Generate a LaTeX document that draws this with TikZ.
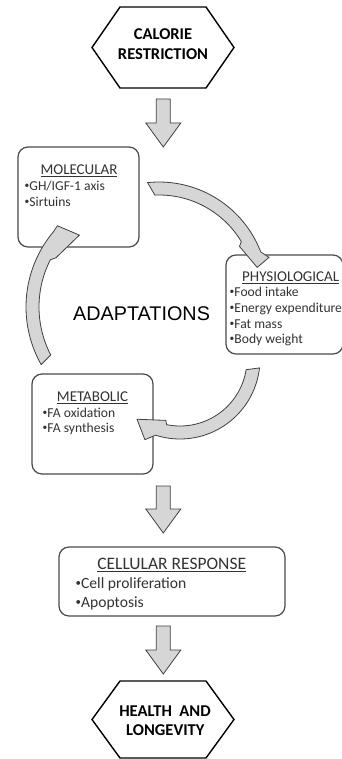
\documentclass[tikz,border=0pt]{standalone}
\usepackage{fontspec}
\setmainfont{Carlito}
\newfontfamily\arialf{Liberation Sans}
\definecolor{boxgray}{HTML}{4A4A4A}
\definecolor{textgray}{HTML}{333333}
\definecolor{arrowfill}{HTML}{D6D6D6}
\definecolor{arrowline}{HTML}{404040}
\newcommand\bul{\raisebox{0.3ex}{\scalebox{0.7}{\textbullet}}}
\newcommand\dnarrow[3]{\draw[blk] (#1-7,#2) -- (#1+7,#2) -- (#1+7,#3-24) -- (#1+17.5,#3-24) -- (#1,#3) -- (#1-17.5,#3-24) -- (#1-7,#3-24) -- cycle;}
\tikzset{
  box/.style={draw=boxgray, line width=1.2pt, rounded corners=10pt, inner sep=0pt},
  hex/.style={draw=black, line width=1.4pt, fill=white},
  blk/.style={draw=arrowline, fill=arrowfill, line width=0.8pt, line join=miter},
  txt/.style={inner sep=0pt, text=textgray, font=\fontsize{13.6}{16}\selectfont, anchor=base west},
  hdr/.style={txt, font=\fontsize{15}{18}\selectfont, anchor=base},
  hdrw/.style={txt, font=\fontsize{15}{18}\selectfont},
  bigtxt/.style={txt, font=\fontsize{15.6}{19}\selectfont},
  bighdr/.style={txt, font=\fontsize{17.5}{21}\selectfont, anchor=base},
  hextxt/.style={inner sep=0pt, text=black, font=\bfseries\fontsize{16.5}{20}\selectfont, anchor=base},
}
\begin{document}
\begin{tikzpicture}[x=1pt,y=-1pt]
\useasboundingbox (0,0) rectangle (342,759);
\clip (0,0) rectangle (342,759);
\fill[white] (0,0) rectangle (342,759);

% top hexagon
\draw[hex] (92,47.5) -- (120,7) -- (206,7) -- (234,47.5) -- (206,88) -- (120,88) -- cycle;
\node[hextxt] (cr1) at (163,39.3) {CALORIE};
\node[hextxt] (cr2) at (163,59.3) {RESTRICTION};

% block arrow 1
\dnarrow{163.3}{99}{147}

% molecular
\node[box, minimum width=121pt, minimum height=100pt] (mol) at (78.5,197) {};
\node[hdr] (molh) at (79,175) {\underline{MOLECULAR}};
\node[txt] (mol1) at (24.5,190.7) {\bul GH/IGF-1 axis};
\node[txt] (mol2) at (24.5,206.2) {\bul Sirtuins};

% physiological
\node[box, minimum width=117pt, minimum height=99pt] (phy) at (284.5,304.5) {};
\node[hdrw] (phyh) at (242,281.7) {\underline{PHYSIOLOGICAL}};
\node[txt] (phy1) at (229.5,296.7) {\bul Food intake};
\node[txt] (phy2) at (229.5,312.3) {\bul Energy expenditure};
\node[txt] (phy3) at (229.5,328) {\bul Fat mass};
\node[txt] (phy4) at (229.5,343.3) {\bul Body weight};

% metabolic
\node[box, minimum width=121pt, minimum height=100pt] (met) at (92.5,424) {};
\node[hdr] (meth) at (92.5,401.7) {\underline{METABOLIC}};
\node[txt] (met1) at (42.5,417.3) {\bul FA oxidation};
\node[txt] (met2) at (42.5,432.7) {\bul FA synthesis};

% adaptations
\node[inner sep=0pt, anchor=base west, font=\arialf\fontsize{19.8}{23}\selectfont, text=black] (adapt) at (73,320) {ADAPTATIONS};

% curved arrows
\draw[blk] plot[domain=-96:-21, samples=40] ({159+109*cos(\x)},{291+109*sin(\x)})
  -- ({159+115*cos(-17)},{291+115*sin(-17)})
  -- ({159+101*cos(-13.5)},{291+101*sin(-13.5)})
  -- ({159+92*cos(-29)},{291+92*sin(-29)})
  -- plot[domain=-31:-92.5, samples=40] ({159+96*cos(\x)},{291+96*sin(\x)}) -- cycle;

\draw[blk] plot[domain=6.4:107.8, samples=40] ({180+80*cos(\x)},{359+80*sin(\x)})
  -- ({180+88*cos(113.5)},{359+88*sin(113.5)})
  -- ({180+74*cos(125.5)},{359+74*sin(125.5)})
  -- ({180+63*cos(103)},{359+63*sin(103)})
  -- plot[domain=101.5:9.2, samples=40] ({180+67*cos(\x)},{359+67*sin(\x)}) -- cycle;

\draw[blk] plot[domain=150.5:220, samples=40] ({143+117*cos(\x)},{307+117*sin(\x)})
  -- ({143+118*cos(223.5)},{307+118*sin(223.5)})
  -- ({143+96*cos(228.5)},{307+96*sin(228.5)})
  -- ({143+100*cos(209.5)},{307+100*sin(209.5)})
  -- plot[domain=207:152.5, samples=40] ({143+104*cos(\x)},{307+104*sin(\x)}) -- cycle;

% block arrow 2
\dnarrow{163.3}{486}{533}

% cellular response
\node[box, minimum width=226pt, minimum height=69pt] (cel) at (172,581.5) {};
\node[bighdr] (celh) at (171.7,569.3) {\underline{CELLULAR RESPONSE}};
\node[bigtxt] (cel1) at (75.5,588.3) {\bul Cell proliferation};
\node[bigtxt] (cel2) at (75.5,607.3) {\bul Apoptosis};

% block arrow 3
\dnarrow{163.3}{626}{674}

% bottom hexagon
\draw[hex] (92,719.5) -- (120,681) -- (206,681) -- (234,719.5) -- (206,758) -- (120,758) -- cycle;
\node[hextxt] (hl1) at (165,716) {HEALTH\ \ AND};
\node[hextxt] (hl2) at (165.3,735) {LONGEVITY};
\end{tikzpicture}
\end{document}
